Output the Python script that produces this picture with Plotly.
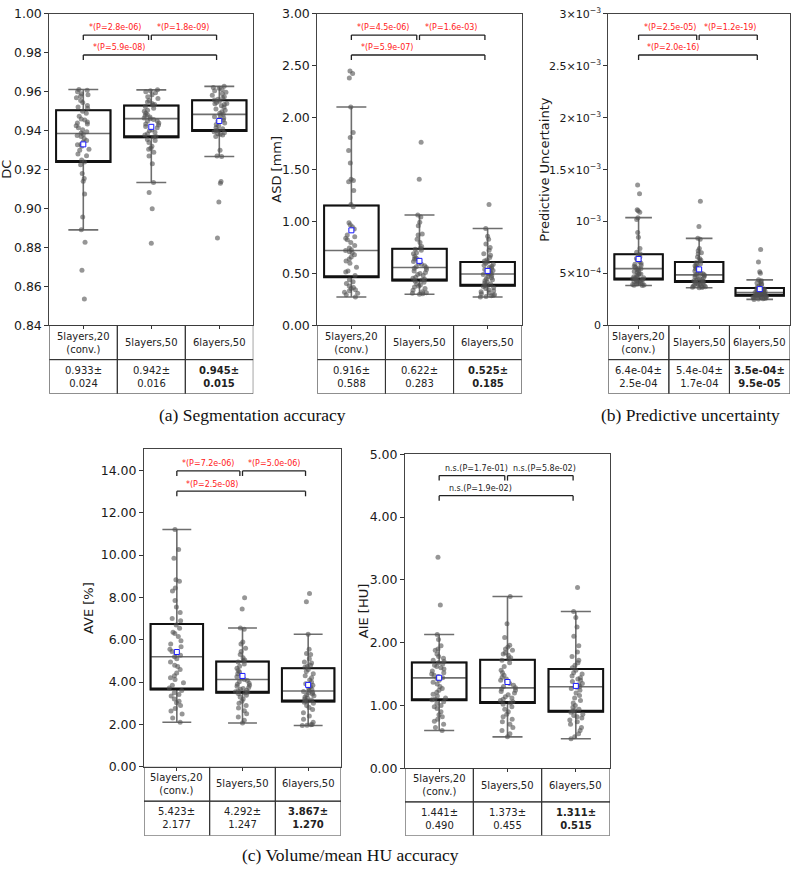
import plotly.graph_objects as go

W, H = 793, 875

groups = ["5layers,20<br>(conv.)", "5layers,50", "6layers,50"]
positions = [0, 1, 2]
pairs = [(0, 1), (1, 2), (0, 2)]
alpha = 0.05 / 3

# ---------------- DC ----------------
dc_g0 = [0.9612, 0.9608, 0.9600, 0.9590, 0.9585, 0.9578, 0.9570, 0.9555, 0.9545, 0.9530, 0.9522, 0.9515,
         0.9500, 0.9490, 0.9475, 0.9460, 0.9455, 0.9445, 0.9440, 0.9435, 0.9425, 0.9415, 0.9405, 0.9395,
         0.9388, 0.9382, 0.9375, 0.9370, 0.9360, 0.9350, 0.9342, 0.9330, 0.9328, 0.9320, 0.9305, 0.9300,
         0.9280, 0.9272, 0.9250, 0.9240,
         0.9225, 0.9180, 0.9155, 0.9140, 0.9075, 0.8957, 0.8891, 0.8827, 0.8684, 0.8536]
dc_g1 = [0.9610, 0.9605, 0.9600, 0.9595, 0.9585, 0.9575, 0.9565, 0.9555, 0.9548, 0.9540, 0.9535, 0.9532,
         0.9525, 0.9515, 0.9505, 0.9500, 0.9490, 0.9482, 0.9478, 0.9470, 0.9465, 0.9462, 0.9458, 0.9450,
         0.9450, 0.9440, 0.9435, 0.9430, 0.9422, 0.9415, 0.9405, 0.9400, 0.9392, 0.9385, 0.9378, 0.9370, 0.9368,
         0.9355, 0.9350, 0.9340, 0.9320, 0.9310, 0.9305, 0.9290, 0.9270, 0.9230, 0.9134, 0.9083, 0.8999, 0.8822]
dc_g2 = [0.9628, 0.9622, 0.9618, 0.9612, 0.9605, 0.9598, 0.9590, 0.9582, 0.9575, 0.9568, 0.9562, 0.9558,
         0.9552, 0.9545, 0.9540, 0.9538, 0.9535, 0.9528, 0.9520, 0.9512, 0.9505, 0.9498, 0.9490, 0.9485,
         0.9480, 0.9472, 0.9465, 0.9460, 0.9455, 0.9450, 0.9440, 0.9432, 0.9425, 0.9415, 0.9410, 0.9402, 0.9400,
         0.9395, 0.9390, 0.9385, 0.9382, 0.9378, 0.9370, 0.9300, 0.9270, 0.9268, 0.9139, 0.9130, 0.9034, 0.8849]
dc_q1 = [0.9240, 0.9366, 0.9399]
dc_med = [0.9386, 0.9462, 0.9484]
dc_q3 = [0.9505, 0.9529, 0.9556]
dc_lo = [0.8891, 0.9134, 0.9268]
dc_hi = [0.9612, 0.9610, 0.9628]
dc_mean = [0.933, 0.942, 0.945]
dc_sd = [0.024, 0.016, 0.015]
dc_p = [2.8e-06, 1.8e-09, 5.9e-08]
dc_ticks = [0.84, 0.86, 0.88, 0.90, 0.92, 0.94, 0.96, 0.98, 1.00]

# ---------------- ASD ----------------
asd_g0 = [2.451, 2.426, 2.382, 2.104, 1.858, 1.810, 1.685, 1.565, 1.407, 1.395, 1.385, 1.300, 1.164,
          1.142, 0.990, 0.970, 0.950, 0.930, 0.870, 0.855, 0.840, 0.825, 0.800, 0.770, 0.745, 0.730,
          0.722, 0.710, 0.700, 0.680, 0.660, 0.640, 0.620, 0.600, 0.560, 0.525, 0.515, 0.480,
          0.440, 0.420, 0.405, 0.380, 0.365, 0.355, 0.345, 0.335, 0.320, 0.310, 0.295, 0.274]
asd_g1 = [1.763, 1.407, 1.063, 1.045, 0.995, 0.960, 0.880, 0.870, 0.830, 0.800, 0.760, 0.745,
          0.735, 0.725, 0.700, 0.690, 0.665, 0.650, 0.640, 0.630, 0.615, 0.600, 0.590, 0.575, 0.565,
          0.558, 0.550, 0.540, 0.525, 0.510, 0.500, 0.490, 0.480, 0.465, 0.455, 0.445, 0.438,
          0.425, 0.415, 0.400, 0.390, 0.380, 0.370, 0.355, 0.340, 0.325, 0.315, 0.310, 0.305, 0.300]
asd_g2 = [1.164, 0.934, 0.860, 0.830, 0.785, 0.750, 0.725, 0.690, 0.675, 0.655, 0.630, 0.620,
          0.610, 0.600, 0.590, 0.580, 0.570, 0.560, 0.550, 0.540, 0.530, 0.520, 0.510, 0.500, 0.495,
          0.490, 0.480, 0.470, 0.460, 0.450, 0.440, 0.430, 0.420, 0.410, 0.400, 0.390, 0.385,
          0.375, 0.365, 0.355, 0.345, 0.335, 0.325, 0.315, 0.305, 0.295, 0.290, 0.285, 0.280, 0.274]
asd_q1 = [0.464, 0.432, 0.382]
asd_med = [0.722, 0.558, 0.495]
asd_q3 = [1.155, 0.738, 0.612]
asd_lo = [0.274, 0.300, 0.274]
asd_hi = [2.104, 1.063, 0.934]
asd_mean = [0.916, 0.622, 0.525]
asd_sd = [0.588, 0.283, 0.185]
asd_p = [4.5e-06, 1.6e-03, 5.9e-07]
asd_ticks = [0.0, 0.5, 1.0, 1.5, 2.0, 2.5, 3.0]

# ---------------- Predictive uncertainty ----------------
pu_g0 = [1.353e-3, 1.268e-3, 1.115e-3, 1.105e-3, 1.090e-3, 1.038e-3, 1.020e-3, 8.96e-4, 8.49e-4, 7.40e-4, 7.05e-4, 6.90e-4,
         6.75e-4, 6.60e-4, 6.45e-4, 6.30e-4, 6.15e-4, 6.00e-4, 5.90e-4, 5.80e-4, 5.70e-4, 5.60e-4, 5.50e-4,
         5.45e-4, 5.40e-4, 5.30e-4, 5.20e-4, 5.10e-4, 5.00e-4, 4.95e-4, 4.90e-4, 4.80e-4, 4.70e-4, 4.65e-4,
         4.60e-4, 4.55e-4, 4.50e-4,
         4.40e-4, 4.35e-4, 4.30e-4, 4.25e-4, 4.20e-4, 4.15e-4, 4.10e-4, 4.05e-4, 4.00e-4, 3.95e-4, 3.90e-4, 3.87e-4, 3.85e-4]
pu_g1 = [1.196e-3, 9.53e-4, 8.39e-4, 8.30e-4, 7.40e-4, 7.20e-4, 7.00e-4, 6.90e-4, 6.60e-4, 6.45e-4, 6.30e-4, 6.20e-4,
         6.05e-4, 5.95e-4, 5.85e-4, 5.75e-4, 5.65e-4, 5.55e-4, 5.45e-4, 5.35e-4, 5.25e-4, 5.15e-4, 5.05e-4,
         4.98e-4, 4.92e-4, 4.89e-4, 4.85e-4, 4.78e-4, 4.70e-4, 4.62e-4, 4.55e-4, 4.48e-4, 4.42e-4, 4.36e-4,
         4.30e-4, 4.25e-4, 4.22e-4,
         4.15e-4, 4.10e-4, 4.05e-4, 4.00e-4, 3.95e-4, 3.90e-4, 3.85e-4, 3.80e-4, 3.76e-4, 3.72e-4, 3.69e-4, 3.66e-4, 3.63e-4]
pu_g2 = [7.32e-4, 6.12e-4, 5.18e-4, 5.03e-4, 4.39e-4, 4.30e-4, 4.20e-4, 4.10e-4, 4.00e-4, 3.90e-4, 3.80e-4, 3.70e-4,
         3.58e-4, 3.55e-4, 3.50e-4, 3.46e-4, 3.42e-4, 3.38e-4, 3.35e-4, 3.32e-4, 3.29e-4, 3.26e-4, 3.23e-4,
         3.21e-4, 3.19e-4, 3.17e-4, 3.15e-4, 3.12e-4, 3.10e-4, 3.07e-4, 3.04e-4, 3.01e-4, 2.98e-4, 2.95e-4,
         2.93e-4, 2.91e-4, 2.89e-4,
         2.86e-4, 2.83e-4, 2.80e-4, 2.78e-4, 2.75e-4, 2.72e-4, 2.70e-4, 2.67e-4, 2.64e-4, 2.61e-4, 2.58e-4, 2.55e-4, 2.51e-4]
pu_q1 = [4.42e-4, 4.18e-4, 2.86e-4]
pu_med = [5.47e-4, 4.87e-4, 3.17e-4]
pu_q3 = [6.85e-4, 6.12e-4, 3.60e-4]
pu_lo = [3.85e-4, 3.63e-4, 2.51e-4]
pu_hi = [1.038e-3, 8.39e-4, 4.39e-4]
pu_mean = [6.4e-4, 5.4e-4, 3.5e-4]
pu_sd = [2.5e-4, 1.7e-4, 9.5e-5]
pu_p = [2.5e-05, 1.2e-19, 2.0e-16]
pu_ticks = [0, 5e-4, 1e-3, 1.5e-3, 2e-3, 2.5e-3, 3e-3]
pu_ticktext = ["0", "5×10<sup>−4</sup>", "10<sup>−3</sup>", "1.5×10<sup>−3</sup>",
               "2×10<sup>−3</sup>", "2.5×10<sup>−3</sup>", "3×10<sup>−3</sup>"]

# ---------------- AVE ----------------
ave_g0 = [11.21, 10.26, 9.85, 8.84, 8.77, 8.45, 8.30, 7.86, 7.55, 7.29, 7.00, 6.90,
          6.70, 6.55, 6.36, 6.30, 6.15, 5.95, 5.80, 5.67, 5.55, 5.45, 5.35, 5.27, 5.20, 5.10, 4.95,
          4.80, 4.74, 4.60, 4.43, 4.30, 4.20, 4.12, 3.97, 3.85, 3.72,
          3.60, 3.50, 3.42, 3.34, 3.20, 3.10, 3.03, 2.90, 2.75, 2.64, 2.49, 2.30, 2.10]
ave_g1 = [7.99, 7.45, 6.56, 6.50, 5.90, 5.80, 5.60, 5.45, 5.30, 5.15, 5.05, 5.00,
          4.95, 4.85, 4.75, 4.65, 4.55, 4.48, 4.40, 4.32, 4.25, 4.18, 4.12, 4.08, 4.02, 3.95, 3.90,
          3.85, 3.80, 3.75, 3.70, 3.66, 3.62, 3.58, 3.55, 3.52, 3.50,
          3.45, 3.38, 3.30, 3.20, 3.10, 3.00, 2.90, 2.78, 2.65, 2.50, 2.35, 2.20, 2.07]
ave_g2 = [8.19, 7.80, 6.26, 5.55, 5.35, 5.30, 5.10, 4.95, 4.90, 4.80, 4.75, 4.70,
          4.60, 4.50, 4.40, 4.30, 4.20, 4.10, 4.00, 3.92, 3.85, 3.78, 3.72, 3.66, 3.60, 3.56, 3.52,
          3.48, 3.44, 3.40, 3.35, 3.30, 3.25, 3.20, 3.15, 3.12, 3.10,
          3.05, 3.00, 2.90, 2.80, 2.70, 2.55, 2.40, 2.25, 2.10, 2.00, 1.98, 1.96, 1.95]
ave_q1 = [3.65, 3.50, 3.08]
ave_med = [5.20, 4.12, 3.58]
ave_q3 = [6.75, 4.97, 4.66]
ave_lo = [2.10, 2.07, 1.95]
ave_hi = [11.21, 6.56, 6.26]
ave_mean = [5.423, 4.292, 3.867]
ave_sd = [2.177, 1.247, 1.270]
ave_p = [7.2e-06, 5.0e-06, 2.5e-08]
ave_ticks = [0, 2, 4, 6, 8, 10, 12, 14]

# ---------------- AIE ----------------
aie_g0 = [3.36, 2.60, 2.13, 2.05, 1.95, 1.90, 1.88, 1.82, 1.78, 1.75, 1.72, 1.70,
          1.68, 1.66, 1.64, 1.62, 1.60, 1.58, 1.55, 1.52, 1.50, 1.48, 1.46, 1.44, 1.43, 1.40, 1.37,
          1.34, 1.30, 1.27, 1.24, 1.21, 1.18, 1.15, 1.12, 1.10, 1.09,
          1.06, 1.03, 1.00, 0.98, 0.95, 0.90, 0.85, 0.82, 0.78, 0.75, 0.70, 0.65, 0.60]
aie_g1 = [2.735, 2.30, 2.08, 1.96, 1.93, 1.90, 1.88, 1.84, 1.82, 1.80, 1.76, 1.74,
          1.72, 1.68, 1.62, 1.56, 1.52, 1.48, 1.45, 1.42, 1.40, 1.38, 1.35, 1.32, 1.30, 1.28, 1.26,
          1.24, 1.22, 1.20, 1.17, 1.14, 1.12, 1.10, 1.08, 1.06, 1.04,
          1.02, 0.98, 0.94, 0.90, 0.86, 0.82, 0.78, 0.74, 0.70, 0.65, 0.60, 0.55, 0.50]
aie_g2 = [2.876, 2.495, 2.40, 2.25, 2.10, 1.95, 1.85, 1.78, 1.72, 1.68, 1.64, 1.60,
          1.56, 1.52, 1.50, 1.47, 1.44, 1.42, 1.40, 1.38, 1.35, 1.33, 1.31, 1.30, 1.29, 1.27, 1.24,
          1.20, 1.16, 1.12, 1.08, 1.04, 1.00, 0.97, 0.94, 0.92, 0.91,
          0.89, 0.86, 0.84, 0.82, 0.80, 0.77, 0.74, 0.70, 0.65, 0.60, 0.55, 0.50, 0.47]
aie_q1 = [1.084, 1.037, 0.901]
aie_med = [1.439, 1.280, 1.298]
aie_q3 = [1.685, 1.727, 1.580]
aie_lo = [0.600, 0.500, 0.470]
aie_hi = [2.130, 2.735, 2.495]
aie_mean = [1.441, 1.373, 1.311]
aie_sd = [0.490, 0.455, 0.515]
aie_p = [1.7e-01, 5.8e-02, 1.9e-02]
aie_ticks = [0, 1, 2, 3, 4, 5]

best = 2

panels = [
    dict(x0=49.3, x1=253.3, top=6, bot=323, tbot=392.5, rng=[0.84, 1.0], ticks=dc_ticks, ticktext=None,
         tfs=12.5, title="DC", tx=7, data=[dc_g0, dc_g1, dc_g2], q1=dc_q1, med=dc_med, q3=dc_q3,
         lo=dc_lo, hi=dc_hi, means=dc_mean, sds=dc_sd, vfmt="{:.3f}", pvals=dc_p),
    dict(x0=317.3, x1=521.7, top=6, bot=323, tbot=392.5, rng=[0, 3.0], ticks=asd_ticks, ticktext=None,
         tfs=12.5, title="ASD [mm]", tx=277, data=[asd_g0, asd_g1, asd_g2], q1=asd_q1, med=asd_med,
         q3=asd_q3, lo=asd_lo, hi=asd_hi, means=asd_mean, sds=asd_sd, vfmt="{:.3f}", pvals=asd_p),
    dict(x0=608.3, x1=790, top=6, bot=323, tbot=392.5, rng=[0, 3e-3], ticks=pu_ticks, ticktext=pu_ticktext,
         tfs=11, title="Predictive Uncertainty", tx=545, data=[pu_g0, pu_g1, pu_g2], q1=pu_q1, med=pu_med,
         q3=pu_q3, lo=pu_lo, hi=pu_hi, means=pu_mean, sds=pu_sd, vfmt="{:.1e}", pvals=pu_p),
    dict(x0=144, x1=341, top=449, bot=772, tbot=842, rng=[0, 15], ticks=ave_ticks, ticktext=None,
         tfs=12.5, title="AVE [%]", tx=88, data=[ave_g0, ave_g1, ave_g2], q1=ave_q1, med=ave_med,
         q3=ave_q3, lo=ave_lo, hi=ave_hi, means=ave_mean, sds=ave_sd, vfmt="{:.3f}", pvals=ave_p),
    dict(x0=405, x1=610, top=454, bot=773.5, tbot=842, rng=[0, 5], ticks=aie_ticks, ticktext=None,
         tfs=12.5, title="AIE [HU]", tx=363, data=[aie_g0, aie_g1, aie_g2], q1=aie_q1, med=aie_med,
         q3=aie_q3, lo=aie_lo, hi=aie_hi, means=aie_mean, sds=aie_sd, vfmt="{:.3f}", pvals=aie_p),
]

captions = [("(a) Segmentation accuracy", 252, 414),
            ("(b) Predictive uncertainty", 690, 414),
            ("(c) Volume/mean HU accuracy", 350, 862)]

FONT = "DejaVu Sans"
fig = go.Figure()
shapes = []
annotations = []
layout = {}

for k, p in enumerate(panels):
    ax = "" if k == 0 else str(k + 1)
    tb = str(k + 6)
    xa, ya = "x" + ax, "y" + ax
    xt, yt = "x" + tb, "y" + tb
    xd = [p["x0"] / W, p["x1"] / W]
    yd = [1 - p["bot"] / H, 1 - p["top"] / H]
    td = [1 - p["tbot"] / H, 1 - p["bot"] / H]

    layout["xaxis" + ax] = dict(domain=xd, range=[-0.5, 2.5], anchor=ya, showticklabels=False,
                                ticks="outside", ticklen=3, tickvals=positions, tickcolor="#333",
                                showline=True, mirror=True, linecolor="#444", linewidth=1,
                                showgrid=False, zeroline=False)
    yax = dict(domain=yd, range=p["rng"], anchor=xa, ticks="outside", ticklen=4, tickcolor="#333",
               tickvals=p["ticks"], tickfont=dict(family=FONT, size=p["tfs"], color="#1a1a1a"),
               showline=True, mirror=True, linecolor="#444", linewidth=1,
               showgrid=False, zeroline=False)
    if p["ticktext"] is not None:
        yax["ticktext"] = p["ticktext"]
    else:
        yax["tickformat"] = ".2f"
    layout["yaxis" + ax] = yax
    layout["xaxis" + tb] = dict(domain=xd, range=[-0.5, 2.5], anchor=yt, visible=False)
    layout["yaxis" + tb] = dict(domain=td, range=[0, 2], anchor=xt, visible=False)

    # whiskers + median (gray)
    fig.add_trace(go.Box(x=positions, q1=p["q1"], median=p["med"], q3=p["q3"],
                         lowerfence=p["lo"], upperfence=p["hi"], width=0.8, whiskerwidth=0.55,
                         line=dict(color="#6e6e6e", width=1.6), fillcolor="rgba(0,0,0,0)",
                         boxpoints=False, xaxis=xa, yaxis=ya, showlegend=False, hoverinfo="skip"))
    # box outline (black)
    fig.add_trace(go.Box(x=positions, q1=p["q1"], median=p["q1"], q3=p["q3"],
                         lowerfence=p["q1"], upperfence=p["q3"], width=0.8, whiskerwidth=0,
                         line=dict(color="#111111", width=2), fillcolor="rgba(0,0,0,0)",
                         boxpoints=False, xaxis=xa, yaxis=ya, showlegend=False, hoverinfo="skip"))
    # jittered points
    xs, ys = [], []
    for i, d in enumerate(p["data"]):
        xs += [i] * len(d)
        ys += d
    fig.add_trace(go.Box(x=xs, y=ys, boxpoints="all", jitter=0.3, pointpos=0, width=0.8,
                         line=dict(width=0, color="rgba(0,0,0,0)"), fillcolor="rgba(0,0,0,0)",
                         marker=dict(color="rgba(80,80,80,0.6)", size=5),
                         xaxis=xa, yaxis=ya, showlegend=False, hoverinfo="skip"))
    # means
    fig.add_trace(go.Scatter(x=positions, y=p["means"], mode="markers",
                             marker=dict(symbol="square", size=5, color="white",
                                         line=dict(color="#1a1aff", width=1)),
                             xaxis=xa, yaxis=ya, showlegend=False, hoverinfo="skip"))

    # significance brackets
    for (i, j), pv in zip(pairs, p["pvals"]):
        h = 0.932 if j - i == 1 else 0.868
        xe = j - 0.04
        for (ax0, ay0, ax1, ay1) in [(i, h - 0.016, i, h), (i, h, xe, h), (xe, h, xe, h - 0.016)]:
            shapes.append(dict(type="line", xref=xa, yref=ya + " domain", x0=ax0, y0=ay0,
                               x1=ax1, y1=ay1, line=dict(color="#222", width=1.3)))
        sig = pv < alpha
        txt = ("*" if sig else "n.s.") + "(P={:.1e})".format(pv)
        annotations.append(dict(x=i + 0.055 * (j - i), y=h + 0.002, xref=xa, yref=ya + " domain",
                                text=txt, showarrow=False, xanchor="left", yanchor="bottom",
                                font=dict(family=FONT, size=8, color="#ff2020" if sig else "#222")))

    # y-axis title
    annotations.append(dict(x=p["tx"] / W, y=1 - (p["top"] + p["bot"]) / 2 / H, xref="paper",
                            yref="paper", text=p["title"], textangle=-90, showarrow=False,
                            xanchor="center", yanchor="middle",
                            font=dict(family=FONT, size=13, color="#1a1a1a")))

    # table below
    for i in range(3):
        for r in range(2):
            shapes.append(dict(type="rect", xref=xt, yref=yt, x0=i - 0.5, x1=i + 0.5, y0=r, y1=r + 1,
                               line=dict(color="#333", width=1)))
        annotations.append(dict(x=i, y=1.5, xref=xt, yref=yt, text=groups[i], showarrow=False,
                                font=dict(family=FONT, size=10, color="#222")))
        a = p["vfmt"].format(p["means"][i]) + "±"
        b = p["vfmt"].format(p["sds"][i])
        if i == best:
            val = "<b>" + a + "</b><br><b>" + b + "</b>"
        else:
            val = a + "<br>" + b
        annotations.append(dict(x=i, y=0.5, xref=xt, yref=yt, text=val, showarrow=False,
                                font=dict(family=FONT, size=10, color="#222")))

for text, cx, cy in captions:
    annotations.append(dict(x=cx / W, y=1 - cy / H, xref="paper", yref="paper", text=text,
                            showarrow=False, xanchor="center", yanchor="middle",
                            font=dict(family="Liberation Serif", size=17.5, color="#111")))

fig.update_layout(**layout)
fig.update_layout(width=W, height=H, margin=dict(l=0, r=0, t=0, b=0), autosize=False,
                  paper_bgcolor="white", plot_bgcolor="white", boxmode="overlay",
                  shapes=shapes, annotations=annotations, showlegend=False)

fig.write_html("out.html", config={"displayModeBar": False, "staticPlot": True},
               post_script="document.body.style.margin='0';document.body.style.padding='0';"
                           "document.body.style.overflow='hidden';")
